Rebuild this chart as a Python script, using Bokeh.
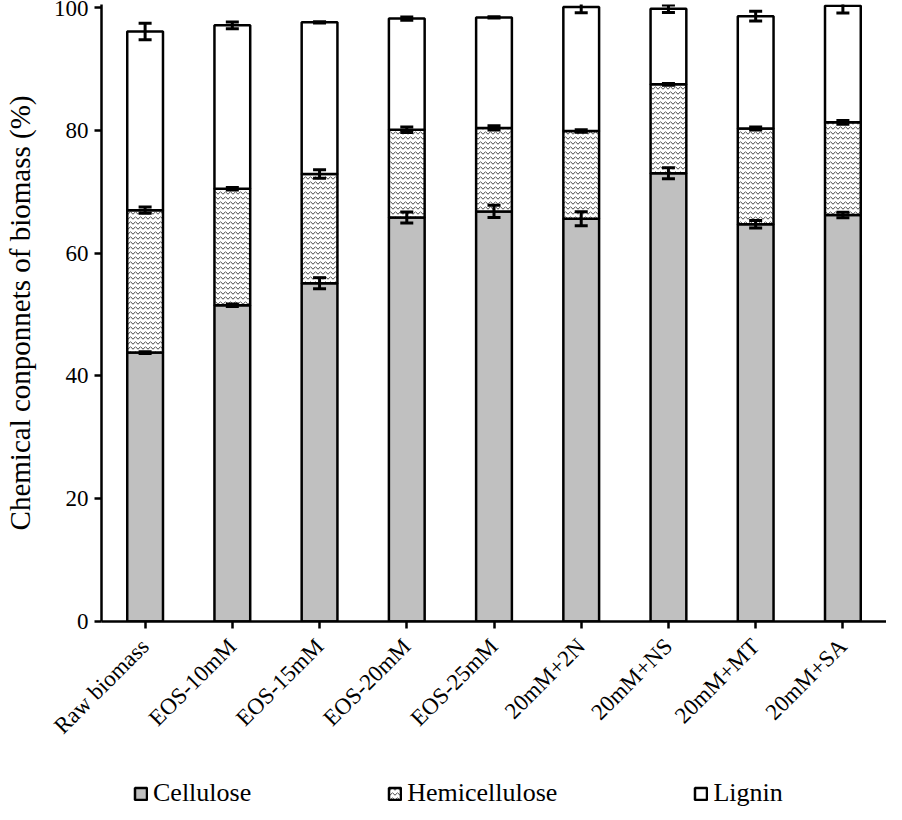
import math
from bokeh.plotting import figure
from bokeh.layouts import column
from bokeh.models import (ColumnDataSource, Whisker, TeeHead, Legend, LegendItem,
                          FixedTicker, Range1d, FactorRange)
from bokeh.embed import file_html
from bokeh.resources import INLINE

categories = ["Raw biomass", "EOS-10mM", "EOS-15mM", "EOS-20mM", "EOS-25mM",
              "20mM+2N", "20mM+NS", "20mM+MT", "20mM+SA"]
cellulose = [43.8, 51.5, 55.1, 65.8, 66.8, 65.6, 73.0, 64.7, 66.2]
hemicellulose = [23.2, 19.0, 17.8, 14.3, 13.6, 14.3, 14.5, 15.6, 15.1]
lignin = [29.1, 26.6, 24.7, 18.1, 18.0, 20.2, 12.3, 18.3, 19.0]
cellulose_err = [0.15, 0.2, 0.9, 0.9, 1.0, 1.15, 0.9, 0.6, 0.45]
hemicellulose_err = [0.5, 0.2, 0.7, 0.45, 0.35, 0.2, 0.15, 0.25, 0.3]
lignin_err = [1.35, 0.55, 0.1, 0.25, 0.1, 0.95, 0.6, 0.8, 1.2]
y_ticks = [0, 20, 40, 60, 80, 100]
series_names = ["Cellulose", "Hemicellulose", "Lignin"]

FONT = "Liberation Serif"
GRAY = "#c0c0c0"
HATCH = dict(hatch_pattern="horizontal_wave", hatch_scale=5, hatch_weight=1,
             hatch_color="#444444")

c_top = cellulose
h_top = [c + h for c, h in zip(cellulose, hemicellulose)]
l_top = [ht + l for ht, l in zip(h_top, lignin)]

src = ColumnDataSource(dict(
    x=categories,
    c_bot=[0] * len(categories), c_top=c_top, h_top=h_top, l_top=l_top,
    c_lo=[v - e for v, e in zip(c_top, cellulose_err)],
    c_hi=[v + e for v, e in zip(c_top, cellulose_err)],
    h_lo=[v - e for v, e in zip(h_top, hemicellulose_err)],
    h_hi=[v + e for v, e in zip(h_top, hemicellulose_err)],
    l_lo=[v - e for v, e in zip(l_top, lignin_err)],
    l_hi=[v + e for v, e in zip(l_top, lignin_err)],
))

BW = 0.41
LW = 2.5


def add_bars(fig):
    rc = fig.vbar(x="x", bottom="c_bot", top="c_top", width=BW, source=src,
                  fill_color=GRAY, line_color="black", line_width=LW)
    rh = fig.vbar(x="x", bottom="c_top", top="h_top", width=BW, source=src,
                  fill_color="white", line_color="black", line_width=LW, **HATCH)
    rl = fig.vbar(x="x", bottom="h_top", top="l_top", width=BW, source=src,
                  fill_color="white", line_color="black", line_width=LW)
    return rc, rh, rl


MAIN_H = 752
p = figure(x_range=categories, y_range=Range1d(0, 100.5),
           width=886, height=MAIN_H, output_backend="svg", toolbar_location=None,
           min_border_left=87, min_border_right=0, min_border_top=4,
           min_border_bottom=MAIN_H - 621)
add_bars(p)

for lo, hi in [("c_lo", "c_hi"), ("h_lo", "h_hi"), ("l_lo", "l_hi")]:
    w = Whisker(base="x", lower=lo, upper=hi, source=src, line_width=3,
                line_color="black", level="annotation",
                upper_head=TeeHead(size=13, line_width=3, line_color="black"),
                lower_head=TeeHead(size=13, line_width=3, line_color="black"))
    p.add_layout(w)

p.xgrid.visible = False
p.ygrid.visible = False
p.outline_line_color = None

for ax in (p.xaxis[0], p.yaxis[0]):
    ax.axis_line_width = LW
    ax.axis_line_color = "black"
    ax.major_tick_line_width = LW
    ax.major_tick_line_color = "black"
    ax.major_tick_out = 7
    ax.major_tick_in = 0
    ax.minor_tick_line_color = None
    ax.major_label_text_font = FONT
    ax.major_label_text_color = "black"

p.yaxis.ticker = FixedTicker(ticks=y_ticks)
p.yaxis.major_label_text_font_size = "23px"
p.yaxis.major_label_standoff = 6
p.yaxis.axis_label = "Chemical conponnets of biomass (%)"
p.yaxis.axis_label_text_font = FONT
p.yaxis.axis_label_text_font_size = "29px"
p.yaxis.axis_label_text_font_style = "normal"
p.yaxis.axis_label_text_color = "black"
p.yaxis.axis_label_standoff = 15

p.xaxis.major_label_orientation = math.pi / 4
p.xaxis.major_label_text_font_size = "23px"
p.xaxis.major_label_standoff = 14

# legend strip below the chart: same bar styles, hidden renderers, only the key shows
LEG_H = 56
lg = figure(width=886, height=LEG_H, output_backend="svg", toolbar_location=None,
            x_range=FactorRange(*categories), y_range=Range1d(0, 100.5),
            x_axis_type=None, y_axis_type=None,
            min_border_left=87, min_border_right=0, min_border_top=0,
            min_border_bottom=0)
lg.outline_line_color = None
lg.xgrid.visible = False
lg.ygrid.visible = False
lg_renderers = add_bars(lg)
for r in lg_renderers:
    r.visible = False

legend = Legend(items=[LegendItem(label=name, renderers=[r])
                       for name, r in zip(series_names, lg_renderers)],
                orientation="horizontal", location=(32, 0),
                label_text_font=FONT, label_text_font_size="26px",
                label_text_color="black",
                glyph_width=15, glyph_height=15, spacing=136,
                border_line_color=None, background_fill_alpha=0,
                inactive_fill_alpha=0, click_policy="none",
                padding=0, margin=0, label_standoff=5)
lg.add_layout(legend, "center")

layout = column(p, lg, spacing=0)
open("out.html", "w").write(file_html(layout, INLINE))
